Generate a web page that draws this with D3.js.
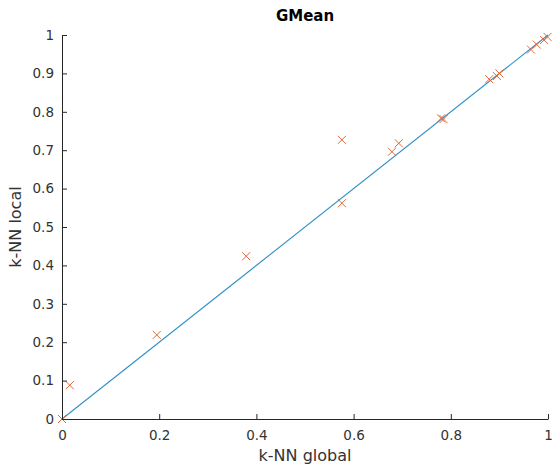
<!DOCTYPE html>
<html>
<head>
<meta charset="utf-8">
<script src="https://cdn.jsdelivr.net/npm/d3@7"></script>
<style>
  html, body { margin: 0; padding: 0; background: #fff; }
  svg { display: block; }
</style>
</head>
<body>
<script>
const title = "GMean";
const xLabel = "k-NN global";
const yLabel = "k-NN local";
const xTicks = [0, 0.2, 0.4, 0.6, 0.8, 1];
const yTicks = [0, 0.1, 0.2, 0.3, 0.4, 0.5, 0.6, 0.7, 0.8, 0.9, 1];
const refLine = [0, 1];
const globalVals = [0, 0.016, 0.195, 0.379, 0.576, 0.576, 0.679, 0.693, 0.78, 0.785, 0.879, 0.895, 0.900, 0.965, 0.977, 0.992, 0.999];
const localVals  = [0, 0.088, 0.219, 0.424, 0.727, 0.562, 0.696, 0.718, 0.783, 0.781, 0.885, 0.893, 0.900, 0.962, 0.975, 0.987, 0.995];

const W = 554, H = 468;
const m = { left: 62, right: 6, top: 35, bottom: 49 };
const svg = d3.select("body").append("svg").attr("width", W).attr("height", H);
const font = "DejaVu Sans, sans-serif";
const axisColor = "#262626";

const x = d3.scaleLinear().domain([0, 1]).range([m.left, W - m.right]);
const y = d3.scaleLinear().domain([0, 1]).range([H - m.bottom, m.top]);

// reference line
svg.append("line")
  .attr("x1", x(refLine[0])).attr("y1", y(refLine[0]))
  .attr("x2", x(refLine[1])).attr("y2", y(refLine[1]))
  .attr("stroke", "#2f8fc6").attr("stroke-width", 1.1);

// markers
const pts = globalVals.map((g, i) => ({ g, l: localVals[i] }));
const s = 4;
const mk = svg.append("g").attr("stroke", "#dd6a3c").attr("stroke-width", 1).attr("fill", "none");
pts.forEach(p => {
  const cx = x(p.g), cy = y(p.l);
  mk.append("path").attr("d", `M${cx - s},${cy - s}L${cx + s},${cy + s}M${cx - s},${cy + s}L${cx + s},${cy - s}`);
});

// axes
const xAxis = d3.axisBottom(x).tickValues(xTicks).tickSizeInner(-5).tickSizeOuter(0).tickPadding(11)
  .tickFormat(d => d3.format("~g")(d));
const yAxis = d3.axisLeft(y).tickValues(yTicks).tickSizeInner(-5).tickSizeOuter(0).tickPadding(8)
  .tickFormat(d => d3.format("~g")(d));

const gx = svg.append("g").attr("transform", `translate(0,${H - m.bottom})`).call(xAxis);
const gy = svg.append("g").attr("transform", `translate(${m.left},0)`).call(yAxis);
[gx, gy].forEach(g => {
  g.select(".domain").attr("stroke", axisColor);
  g.selectAll(".tick line").attr("stroke", axisColor);
  g.selectAll(".tick text").attr("fill", "#333").style("font-family", font).style("font-size", "13.5px");
});

// title
svg.append("text").attr("x", (x(0) + x(1)) / 2).attr("y", 21)
  .attr("text-anchor", "middle").style("font-family", font).style("font-size", "15px")
  .style("font-weight", "bold").attr("fill", "#000").text(title);

// axis labels
svg.append("text").attr("x", (x(0) + x(1)) / 2).attr("y", 461)
  .attr("text-anchor", "middle").style("font-family", font).style("font-size", "16px")
  .attr("fill", "#333").text(xLabel);
svg.append("text").attr("transform", `translate(21,${(y(0) + y(1)) / 2}) rotate(-90)`)
  .attr("text-anchor", "middle").style("font-family", font).style("font-size", "16px")
  .attr("fill", "#333").text(yLabel);
</script>
</body>
</html>
